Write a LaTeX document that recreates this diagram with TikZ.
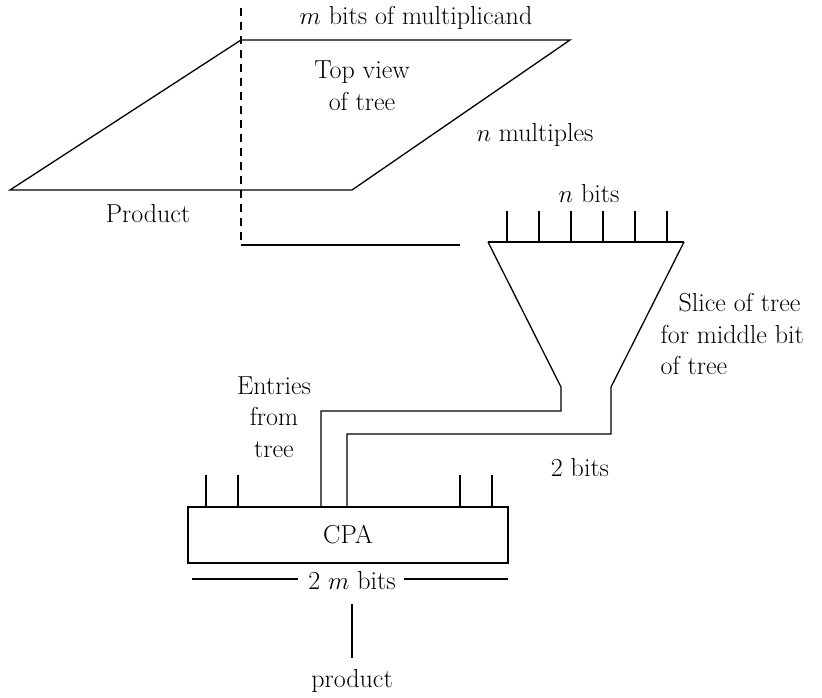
\documentclass[tikz,border=0pt]{standalone}
\usepackage{tikz,pgf}
\usepackage{amsmath}
\begin{document}
\begin{tikzpicture}[x=1pt,y=-1pt,line width=1.3pt,
  every node/.style={font=\fontsize{26}{31.5}\selectfont,inner sep=0pt},
  tick/.style={line width=1.3pt}]
  \useasboundingbox (0,0) rectangle (822,698);
  % top view of the tree
  \draw (10,190) -- (241,40) -- (570,40) -- (352,190) -- cycle;
  \draw[dash pattern=on 8pt off 6pt] (241,8) -- (241,245);
  \draw (241,245) -- (460,245);
  \node (mcand) at (416,18) {$m$ bits of multiplicand};
  \node[align=center] (topview) at (362,86) {Top view\\of tree};
  \node (nmult) at (535,135) {$n$ multiples};
  \node (prodtop) at (148,214) {Product};
  % slice of the tree
  \coordinate (fl) at (488,242);
  \coordinate (fr) at (684,242);
  \coordinate (nl) at (561,387);
  \coordinate (nr) at (611,387);
  \draw (fl) -- (fr);
  \foreach \x in {507,539,...,667}
    \draw[tick] (\x,211) -- (\x,242);
  \node (nbits) at (589,194) {$n$ bits};
  \node[align=left,anchor=west] (slice) at (660,334)
    {\hspace*{18pt}Slice of tree\\for middle bit\\of tree};
  % carry propagate adder
  \node[draw,minimum width=320pt,minimum height=56pt] (cpa) at (348,535) {CPA};
  \foreach \x in {206,238,460,492}
    \draw[tick] (\x,475) -- (\x,507);
  \node[align=center] (entries) at (274,417) {Entries\\from\\tree};
  \node (twobits) at (580,468) {2 bits};
  % the two sum bits down to the adder
  \draw (fl) -- (nl) -- (561,411) -| ([xshift=-27pt]cpa.north);
  \draw (fr) -- (nr) -- (611,434) -| ([xshift=-1pt]cpa.north);
  % output width and product
  \node (width) at (352,581) {2 $m$ bits};
  \coordinate (wl) at (192,579);
  \coordinate (wr) at (508,579);
  \draw (wl) -- ([xshift=-10pt]width.west |- wl);
  \draw (wr) -- ([xshift=8pt]width.east |- wr);
  \node (prod) at (352,681) {product};
  \draw (352,604) -- (352,658);
\end{tikzpicture}
\end{document}
